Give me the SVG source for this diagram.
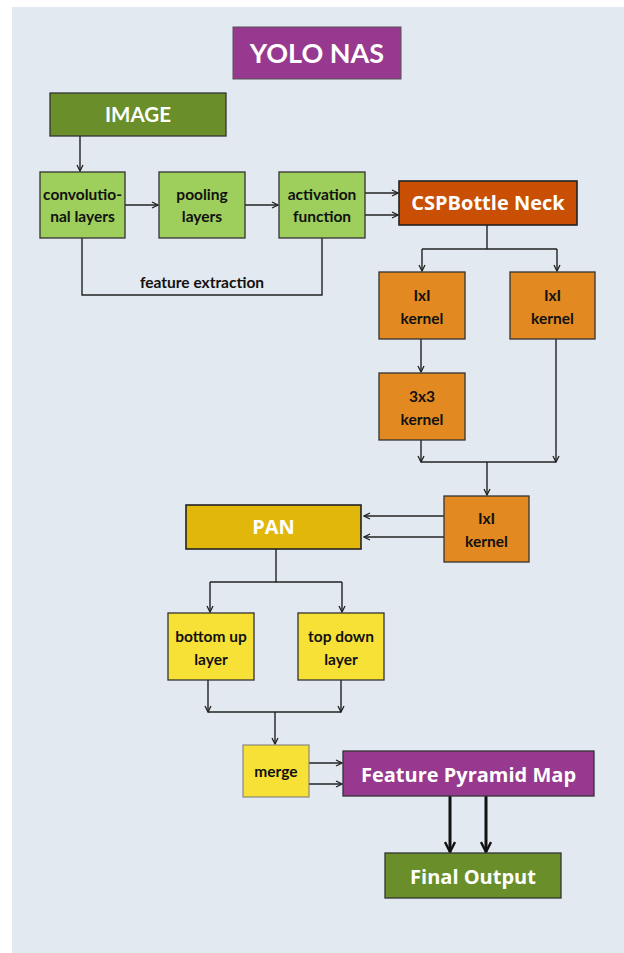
<svg xmlns="http://www.w3.org/2000/svg" width="624" height="953" viewBox="0 0 624 953">
<defs>
<marker id="ah" markerWidth="8" markerHeight="8" refX="7" refY="4" orient="auto" markerUnits="userSpaceOnUse">
<path d="M1,1 L7,4 L1,7" fill="none" stroke="#222" stroke-width="1.3"/>
</marker>
<marker id="ahb" markerWidth="14" markerHeight="12" refX="12" refY="6" orient="auto" markerUnits="userSpaceOnUse">
<path d="M2,1 L12,6 L2,11" fill="none" stroke="#111" stroke-width="2.4"/>
</marker>
<style>
.c{fill:none;stroke:#222;stroke-width:1.4}
.ca{fill:none;stroke:#222;stroke-width:1.4;marker-end:url(#ah)}
.cb{fill:none;stroke:#111;stroke-width:3;marker-end:url(#ahb)}
.box{stroke:#333;stroke-width:1.3}
.lg{fill:#9ECE5B}
.or{fill:#E28922}
.ye{fill:#F7E136}
.pu{fill:#97398E}
.gr{fill:#6A8F2A}
.t{font-family:Lato,"Noto Sans",sans-serif;font-weight:700;font-size:15.5px;fill:#111;text-anchor:middle}
.tw{font-family:"Open Sans","Noto Sans",sans-serif;font-weight:700;fill:#fff;text-anchor:middle}
</style>
</defs>
<rect x="0" y="0" width="624" height="953" fill="#ffffff"/>
<rect x="12" y="7" width="612" height="946" fill="#E2E9F0"/>

<g id="connectors">
<path class="ca" d="M80,136 V171"/>
<path class="ca" d="M125,205 H158"/>
<path class="ca" d="M245,205 H278"/>
<path class="ca" d="M365,193 H398"/>
<path class="ca" d="M365,215 H398"/>
<path class="c" d="M82,238 V295 H322 V238"/>
<path class="c" d="M487,225 V249 H557"/>
<path class="c" d="M487,249 H422"/>
<path class="ca" d="M422,249 V271"/>
<path class="ca" d="M557,249 V271"/>
<path class="ca" d="M421,339 V372"/>
<path class="ca" d="M421,440 V462"/>
<path class="ca" d="M556,339 V462"/>
<path class="c" d="M421,462 H556"/>
<path class="ca" d="M487,462 V495"/>
<path class="ca" d="M444,516 H364"/>
<path class="ca" d="M444,537 H364"/>
<path class="c" d="M276,549 V582 H342"/>
<path class="c" d="M276,582 H210"/>
<path class="ca" d="M210,582 V612"/>
<path class="ca" d="M342,582 V612"/>
<path class="ca" d="M208,680 V712"/>
<path class="ca" d="M341,680 V712"/>
<path class="c" d="M208,712 H341"/>
<path class="ca" d="M275,712 V744"/>
<path class="ca" d="M309,763 H342"/>
<path class="ca" d="M309,784 H342"/>
<path class="cb" d="M450,796 V852"/>
<path class="cb" d="M486,796 V852"/>
</g>

<g id="title">
<rect x="233" y="27" width="168" height="52" class="pu" stroke="#555" stroke-width="1"/>
<text x="317" y="63" class="tw" font-size="27" style="font-family:Lato,'Noto Sans',sans-serif">YOLO NAS</text>
</g>

<g id="image">
<rect x="50" y="93" width="176" height="43" class="gr box" stroke="#111" stroke-width="1.6"/>
<text x="138" y="122" class="tw" font-size="20.5" style="font-family:Lato,'Noto Sans',sans-serif">IMAGE</text>
</g>

<g id="conv">
<rect x="40" y="172" width="85" height="66" class="lg box"/>
<text x="82.5" y="200" class="t" font-size="16">convolutio-</text>
<text x="82.5" y="222" class="t" font-size="16">nal layers</text>
</g>

<g id="pool">
<rect x="159" y="172" width="86" height="66" class="lg box"/>
<text x="202" y="200" class="t" font-size="16">pooling</text>
<text x="202" y="222" class="t" font-size="16">layers</text>
</g>

<g id="activation">
<rect x="279" y="172" width="86" height="66" class="lg box"/>
<text x="322" y="200" class="t" font-size="16">activation</text>
<text x="322" y="222" class="t" font-size="16">function</text>
</g>

<g id="feature-extraction-label">
<text x="202" y="288" class="t" font-size="17">feature extraction</text>
</g>

<g id="csp">
<rect x="399" y="181" width="178" height="44" fill="#C94F04" stroke="#222" stroke-width="1.6"/>
<text x="488" y="210" class="tw" font-size="20">CSPBottle Neck</text>
</g>

<g id="k1a">
<rect x="379" y="272" width="86" height="67" class="or box"/>
<text x="422" y="301" class="t">IxI</text>
<text x="422" y="324" class="t">kernel</text>
</g>

<g id="k1b">
<rect x="510" y="272" width="85" height="67" class="or box"/>
<text x="552.5" y="301" class="t">IxI</text>
<text x="552.5" y="324" class="t">kernel</text>
</g>

<g id="k3">
<rect x="379" y="373" width="86" height="67" class="or box"/>
<text x="422" y="402" class="t">3x3</text>
<text x="422" y="425" class="t">kernel</text>
</g>

<g id="k1c">
<rect x="444" y="496" width="85" height="66" class="or box"/>
<text x="486.5" y="524" class="t">IxI</text>
<text x="486.5" y="547" class="t">kernel</text>
</g>

<g id="pan">
<rect x="186" y="505" width="175" height="44" fill="#E0B70A" stroke="#222" stroke-width="1.6"/>
<text x="273.5" y="534" class="tw" font-size="20">PAN</text>
</g>

<g id="bottomup">
<rect x="168" y="613" width="86" height="67" class="ye box"/>
<text x="211" y="642" class="t">bottom up</text>
<text x="211" y="665" class="t">layer</text>
</g>

<g id="topdown">
<rect x="298" y="613" width="86" height="67" class="ye box"/>
<text x="341" y="642" class="t">top down</text>
<text x="341" y="665" class="t">layer</text>
</g>

<g id="merge">
<rect x="243" y="745" width="66" height="52" class="ye" stroke="#777" stroke-width="1"/>
<text x="276" y="777" class="t" font-size="16.5">merge</text>
</g>

<g id="fpm">
<rect x="343" y="751" width="251" height="45" class="pu box"/>
<text x="468.5" y="782" class="tw" font-size="20">Feature Pyramid Map</text>
</g>

<g id="final">
<rect x="385" y="853" width="176" height="45" class="gr box"/>
<text x="473" y="884" class="tw" font-size="20">Final Output</text>
</g>
</svg>
